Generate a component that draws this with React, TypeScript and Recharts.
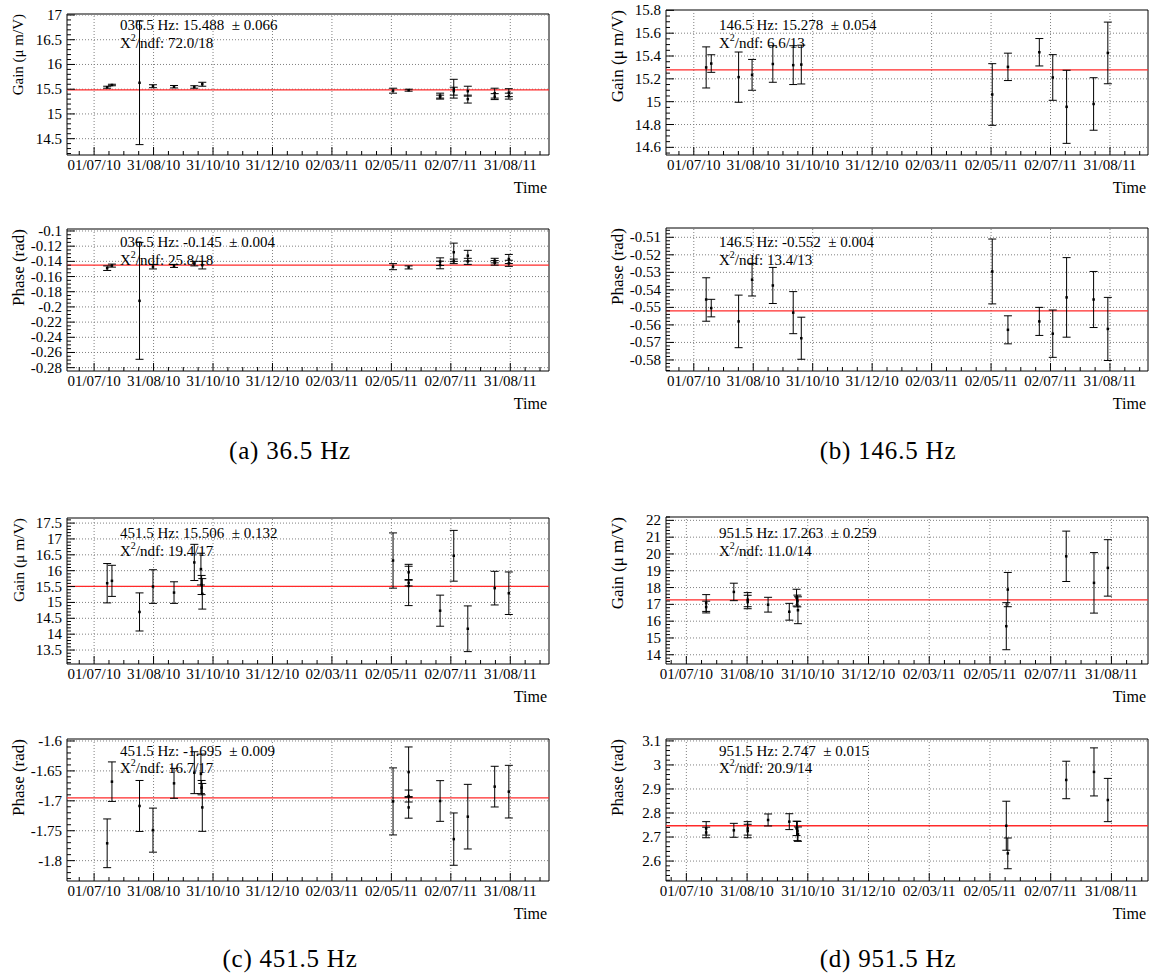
import React from 'react';
import { ScatterChart, Scatter, XAxis, YAxis, ErrorBar, ReferenceLine, ReferenceArea } from 'recharts';

const SERIF = '"Liberation Serif", "Times New Roman", Times, serif';

// Time axis: days counted from 01/07/10
const DATE_TICKS = [0, 61, 122, 183, 244, 305, 366, 427];
const DATE_LABELS = ['01/07/10', '31/08/10', '31/10/10', '31/12/10', '02/03/11', '02/05/11', '02/07/11', '31/08/11'];
const DATE_MINOR_STEP = 15.25;

// 36.5 Hz
const DAYS_036 = [13.4, 18.3, 46.6, 60.4, 82, 102.8, 111, 306.7, 322.7, 355, 355, 369, 369, 383.4, 383.4, 411, 411, 425.5, 425.5];
const GAIN_036 = [15.54, 15.585, 15.63, 15.56, 15.55, 15.545, 15.6, 15.47, 15.48, 15.37, 15.34, 15.51, 15.46, 15.46, 15.3, 15.42, 15.35, 15.43, 15.36];
const GAIN_ERR_036 = [0.02, 0.015, 1.25, 0.03, 0.025, 0.025, 0.04, 0.05, 0.02, 0.05, 0.04, 0.19, 0.08, 0.1, 0.08, 0.1, 0.06, 0.08, 0.06];
const PHASE_036 = [-0.149, -0.1456, -0.192, -0.147, -0.146, -0.143, -0.145, -0.147, -0.148, -0.1404, -0.1448, -0.128, -0.14, -0.1325, -0.14, -0.139, -0.142, -0.1369, -0.1426];
const PHASE_ERR_036 = [0.003, 0.002, 0.077, 0.003, 0.002, 0.003, 0.005, 0.004, 0.002, 0.005, 0.005, 0.012, 0.003, 0.007, 0.004, 0.003, 0.003, 0.006, 0.004];
const GAIN_TICKS_036 = [14.5, 15, 15.5, 16, 16.5, 17];
const PHASE_TICKS_036 = [-0.28, -0.26, -0.24, -0.22, -0.2, -0.18, -0.16, -0.14, -0.12, -0.1];

// 146.5 Hz
const DAYS_146 = [12.7, 17.9, 46.0, 59.8, 81.1, 102.0, 110.3, 306.2, 322.3, 354.5, 368.3, 382.5, 410.2, 424.8];
const GAIN_146 = [15.3, 15.334, 15.215, 15.235, 15.33, 15.32, 15.325, 15.063, 15.305, 15.433, 15.212, 14.955, 14.98, 15.427];
const GAIN_ERR_146 = [0.18, 0.077, 0.22, 0.135, 0.16, 0.17, 0.17, 0.27, 0.12, 0.12, 0.2, 0.32, 0.23, 0.27];
const PHASE_146 = [-0.5455, -0.5504, -0.558, -0.5342, -0.5375, -0.553, -0.5676, -0.5295, -0.5628, -0.558, -0.565, -0.5443, -0.5455, -0.5623];
const PHASE_ERR_146 = [0.0124, 0.005, 0.015, 0.0093, 0.0103, 0.012, 0.012, 0.0185, 0.008, 0.008, 0.0135, 0.0227, 0.016, 0.018];
const GAIN_TICKS_146 = [14.6, 14.8, 15, 15.2, 15.4, 15.6, 15.8];
const PHASE_TICKS_146 = [-0.58, -0.57, -0.56, -0.55, -0.54, -0.53, -0.52, -0.51];

// 451.5 Hz
const DAYS_451 = [13.4, 18.3, 46.6, 60.4, 82, 102.8, 109.6, 110.3, 111, 306.7, 322.7, 322.7, 322.7, 355, 369, 383.4, 411, 425.5];
const GAIN_451 = [15.605, 15.68, 14.7, 15.5, 15.31, 16.26, 16.05, 15.55, 15.27, 16.32, 15.95, 15.62, 15.52, 14.74, 16.47, 14.17, 15.45, 15.29];
const GAIN_ERR_451 = [0.62, 0.49, 0.6, 0.53, 0.34, 0.57, 0.5, 0.3, 0.48, 0.87, 0.25, 0.1, 0.62, 0.49, 0.8, 0.72, 0.53, 0.67];
const PHASE_451 = [-1.771, -1.668, -1.7086, -1.749, -1.6708, -1.653, -1.655, -1.678, -1.711, -1.701, -1.652, -1.692, -1.711, -1.7003, -1.764, -1.7265, -1.6763, -1.6847];
const PHASE_ERR_451 = [0.0407, 0.033, 0.0426, 0.0368, 0.025, 0.035, 0.033, 0.012, 0.04, 0.056, 0.042, 0.01, 0.018, 0.034, 0.0437, 0.054, 0.034, 0.044];
const GAIN_TICKS_451 = [13.5, 14, 14.5, 15, 15.5, 16, 16.5, 17, 17.5];
const PHASE_TICKS_451 = [-1.8, -1.75, -1.7, -1.65, -1.6];

// 951.5 Hz
const DAYS_951 = [19.9, 19.9, 47.7, 61.6, 61.6, 82.1, 103.4, 110.7, 111.5, 112.1, 321.4, 322.9, 381.6, 409.5, 423.4];
const GAIN_951 = [17.08, 16.84, 17.74, 17.28, 17.14, 16.98, 16.56, 17.4, 17.2, 16.65, 15.7, 17.88, 19.86, 18.28, 19.17];
const GAIN_ERR_951 = [0.5, 0.35, 0.52, 0.42, 0.4, 0.44, 0.5, 0.5, 0.35, 0.8, 1.4, 1.02, 1.5, 1.8, 1.68];
const PHASE_951 = [2.736, 2.719, 2.728, 2.736, 2.725, 2.771, 2.764, 2.736, 2.725, 2.712, 2.747, 2.632, 2.9375, 2.971, 2.854];
const PHASE_ERR_951 = [0.028, 0.022, 0.029, 0.028, 0.028, 0.025, 0.033, 0.03, 0.04, 0.03, 0.102, 0.064, 0.078, 0.1, 0.09];
const GAIN_TICKS_951 = [14, 15, 16, 17, 18, 19, 20, 21, 22];
const PHASE_TICKS_951 = [2.6, 2.7, 2.8, 2.9, 3, 3.1];

// Constant fits: value, error, chi2/ndf
const FIT_GAIN = [15.488, 15.278, 15.506, 17.263];
const FIT_GAIN_ERR = [0.066, 0.054, 0.132, 0.259];
const CHI2_GAIN = ['72.0/18', '6.6/13', '19.4/17', '11.0/14'];
const FIT_PHASE = [-0.145, -0.552, -1.695, 2.747];
const FIT_PHASE_ERR = [0.004, 0.004, 0.009, 0.015];
const CHI2_PHASE = ['25.8/18', '13.4/13', '16.7/17', '20.9/14'];
const FREQ_TAGS = ['036.5', '146.5', '451.5', '951.5'];
const CAPTIONS = ['(a) 36.5 Hz', '(b) 146.5 Hz', '(c) 451.5 Hz', '(d) 951.5 Hz'];

type Box = { left: number; top: number; width: number; height: number };
type Frame = { x0: number; x1: number; y0: number; y1: number };
type Spec = {
  key: string;
  box: Box;
  frame: Frame;
  days: number[];
  values: number[];
  errors: number[];
  yDomain: [number, number];
  yTicks: number[];
  yMinor: number;
  fit: number;
  fitErr: number;
  chi2: string;
  tag: string;
  title: string;
  titleSize: number;
  statY: number;
};

const near = (a: number, b: number, tol = 1e-6) => Math.abs(a - b) < tol;

function xDomainOf(days: number[]): [number, number] {
  const lo = Math.min(...days);
  const hi = Math.max(...days);
  const pad = 0.1 * (hi - lo);
  return [lo - pad, hi + pad];
}

function minorTicks(domain: [number, number], step: number, majors: number[]) {
  const out: number[] = [];
  const k0 = Math.ceil(domain[0] / step - 1e-9);
  const k1 = Math.floor(domain[1] / step + 1e-9);
  for (let k = k0; k <= k1; k++) {
    const v = k * step;
    if (!majors.some((m) => near(m, v, step * 1e-3))) out.push(v);
  }
  return out;
}

const fmtTick = (v: number) => String(parseFloat(v.toFixed(4)));

// Axis bands are 1px wide so the axes render; ticks are drawn inward from the frame edge.
const AXIS_BAND = 1;
const TICK_FONT = 15;

const renderXTick = (props: any) => {
  const { x, y, payload } = props;
  const i = DATE_TICKS.findIndex((t) => near(t, payload.value));
  return (
    <g>
      <line x1={x} x2={x} y1={y} y2={y - (i >= 0 ? 8 : 4)} stroke="#000" strokeWidth={1} />
      {i >= 0 && (
        <text x={x} y={y + 15} textAnchor="middle" fontSize={TICK_FONT} fontFamily={SERIF} fill="#000">
          {DATE_LABELS[i]}
        </text>
      )}
    </g>
  );
};

const makeYTick = (majors: number[]) => (props: any) => {
  const { x, y, payload } = props;
  const major = majors.some((m) => near(m, payload.value));
  return (
    <g>
      <line x1={x} x2={x + (major ? 8 : 4)} y1={y} y2={y} stroke="#000" strokeWidth={1} />
      {major && (
        <text x={x - 5} y={y} textAnchor="end" dominantBaseline="central" fontSize={TICK_FONT} fontFamily={SERIF} fill="#000">
          {fmtTick(payload.value)}
        </text>
      )}
    </g>
  );
};

const renderMarker = (props: any) => (
  <rect x={props.cx - 1.25} y={props.cy - 1.25} width={2.5} height={2.5} fill="#000" />
);

function Panel({ spec }: { spec: Spec }) {
  const { box, frame, days, values, errors, yDomain, yTicks, yMinor, fit } = spec;
  const xDomain = xDomainOf(days);
  const xTicks = [
    ...DATE_TICKS.filter((t) => t >= xDomain[0] && t <= xDomain[1]),
    ...minorTicks(xDomain, DATE_MINOR_STEP, DATE_TICKS),
  ].sort((a, b) => a - b);
  const yAll = [...yTicks, ...minorTicks(yDomain, yMinor, yTicks)].sort((a, b) => a - b);
  const data = days.map((d, i) => ({ x: d, y: values[i], e: errors[i] }));
  const margin = {
    left: frame.x0 - box.left - AXIS_BAND,
    right: box.left + box.width - frame.x1,
    top: frame.y0 - box.top,
    bottom: box.top + box.height - frame.y1 - AXIS_BAND,
  };
  return (
    <div style={{ position: 'absolute', left: box.left, top: box.top }}>
      <ScatterChart width={box.width} height={box.height} margin={margin}>
        <XAxis
          type="number"
          dataKey="x"
          domain={xDomain}
          ticks={xTicks}
          interval={0}
          allowDataOverflow
          height={AXIS_BAND}
          tickSize={0}
          tickMargin={0}
          tickLine={false}
          axisLine={false}
          tick={renderXTick}
        />
        <YAxis
          type="number"
          dataKey="y"
          domain={yDomain}
          ticks={yAll}
          interval={0}
          allowDataOverflow
          width={AXIS_BAND}
          tickSize={0}
          tickMargin={0}
          tickLine={false}
          axisLine={false}
          tick={makeYTick(yTicks)}
        />
        {DATE_TICKS.map((t) => (
          <ReferenceLine key={'gx' + t} x={t} stroke="#808080" strokeDasharray="1 2" strokeWidth={1} />
        ))}
        {yTicks.map((t) => (
          <ReferenceLine key={'gy' + t} y={t} stroke="#808080" strokeDasharray="1 2" strokeWidth={1} />
        ))}
        <ReferenceLine y={fit} stroke="#ff2a2a" strokeWidth={1.3} />
        <Scatter data={data} dataKey="y" isAnimationActive={false} shape={renderMarker}>
          <ErrorBar dataKey="e" direction="y" width={4} stroke="#000" strokeWidth={1} isAnimationActive={false} />
        </Scatter>
        <ReferenceArea
          x1={xDomain[0]}
          x2={xDomain[1]}
          y1={yDomain[0]}
          y2={yDomain[1]}
          fill="none"
          fillOpacity={0}
          stroke="#000"
          strokeWidth={1}
          ifOverflow="visible"
        />
      </ScatterChart>
    </div>
  );
}

const LEFT_BOX = { left: 0, width: 575 };
const RIGHT_BOX = { left: 575, width: 575 };
const LEFT_X = { x0: 67, x1: 549 };
const RIGHT_X = { x0: 666, x1: 1148 };

const GAIN_TITLE = 'Gain (\u03bc m/V)';
const PHASE_TITLE = 'Phase (rad)';

const SPECS: Spec[] = [
  {
    key: 'a-gain', box: { ...LEFT_BOX, top: 0, height: 215 }, frame: { ...LEFT_X, y0: 14, y1: 155 },
    days: DAYS_036, values: GAIN_036, errors: GAIN_ERR_036, yDomain: [14.17, 17.02], yTicks: GAIN_TICKS_036, yMinor: 0.1,
    fit: FIT_GAIN[0], fitErr: FIT_GAIN_ERR[0], chi2: CHI2_GAIN[0], tag: FREQ_TAGS[0], title: GAIN_TITLE, titleSize: 15, statY: 25.3,
  },
  {
    key: 'a-phase', box: { ...LEFT_BOX, top: 215, height: 215 }, frame: { ...LEFT_X, y0: 229, y1: 371 },
    days: DAYS_036, values: PHASE_036, errors: PHASE_ERR_036, yDomain: [-0.2844, -0.0974], yTicks: PHASE_TICKS_036, yMinor: 0.005,
    fit: FIT_PHASE[0], fitErr: FIT_PHASE_ERR[0], chi2: CHI2_PHASE[0], tag: FREQ_TAGS[0], title: PHASE_TITLE, titleSize: 17, statY: 242,
  },
  {
    key: 'b-gain', box: { ...RIGHT_BOX, top: 0, height: 215 }, frame: { ...RIGHT_X, y0: 10, y1: 155 },
    days: DAYS_146, values: GAIN_146, errors: GAIN_ERR_146, yDomain: [14.533, 15.803], yTicks: GAIN_TICKS_146, yMinor: 0.05,
    fit: FIT_GAIN[1], fitErr: FIT_GAIN_ERR[1], chi2: CHI2_GAIN[1], tag: FREQ_TAGS[1], title: GAIN_TITLE, titleSize: 17, statY: 25.3,
  },
  {
    key: 'b-phase', box: { ...RIGHT_BOX, top: 215, height: 215 }, frame: { ...RIGHT_X, y0: 228, y1: 371 },
    days: DAYS_146, values: PHASE_146, errors: PHASE_ERR_146, yDomain: [-0.5863, -0.5047], yTicks: PHASE_TICKS_146, yMinor: 0.002,
    fit: FIT_PHASE[1], fitErr: FIT_PHASE_ERR[1], chi2: CHI2_PHASE[1], tag: FREQ_TAGS[1], title: PHASE_TITLE, titleSize: 17, statY: 242,
  },
  {
    key: 'c-gain', box: { ...LEFT_BOX, top: 495, height: 215 }, frame: { ...LEFT_X, y0: 518, y1: 664 },
    days: DAYS_451, values: GAIN_451, errors: GAIN_ERR_451, yDomain: [13.06, 17.66], yTicks: GAIN_TICKS_451, yMinor: 0.1,
    fit: FIT_GAIN[2], fitErr: FIT_GAIN_ERR[2], chi2: CHI2_GAIN[2], tag: FREQ_TAGS[2], title: GAIN_TITLE, titleSize: 15.5, statY: 533.3,
  },
  {
    key: 'c-phase', box: { ...LEFT_BOX, top: 715, height: 215 }, frame: { ...LEFT_X, y0: 739, y1: 881 },
    days: DAYS_451, values: PHASE_451, errors: PHASE_ERR_451, yDomain: [-1.834, -1.5967], yTicks: PHASE_TICKS_451, yMinor: 0.01,
    fit: FIT_PHASE[2], fitErr: FIT_PHASE_ERR[2], chi2: CHI2_PHASE[2], tag: FREQ_TAGS[2], title: PHASE_TITLE, titleSize: 17, statY: 750.5,
  },
  {
    key: 'd-gain', box: { ...RIGHT_BOX, top: 495, height: 215 }, frame: { ...RIGHT_X, y0: 517, y1: 664 },
    days: DAYS_951, values: GAIN_951, errors: GAIN_ERR_951, yDomain: [13.45, 22.2], yTicks: GAIN_TICKS_951, yMinor: 0.2,
    fit: FIT_GAIN[3], fitErr: FIT_GAIN_ERR[3], chi2: CHI2_GAIN[3], tag: FREQ_TAGS[3], title: GAIN_TITLE, titleSize: 17, statY: 533.3,
  },
  {
    key: 'd-phase', box: { ...RIGHT_BOX, top: 715, height: 215 }, frame: { ...RIGHT_X, y0: 739, y1: 881 },
    days: DAYS_951, values: PHASE_951, errors: PHASE_ERR_951, yDomain: [2.517, 3.108], yTicks: PHASE_TICKS_951, yMinor: 0.02,
    fit: FIT_PHASE[3], fitErr: FIT_PHASE_ERR[3], chi2: CHI2_PHASE[3], tag: FREQ_TAGS[3], title: PHASE_TITLE, titleSize: 17, statY: 750.5,
  },
];

const CAPTION_POS = [
  { x: 290, y: 450 },
  { x: 888, y: 450 },
  { x: 290, y: 958 },
  { x: 888, y: 958 },
];

function Annotations() {
  return (
    <svg
      width={1150}
      height={973}
      style={{ position: 'absolute', left: 0, top: 0, pointerEvents: 'none' }}
      fontFamily={SERIF}
      fill="#000"
    >
      {SPECS.map((s) => {
        const tx = s.frame.x0 + 53;
        const titleX = s.frame.x0 - 49;
        return (
          <g key={s.key}>
            <text x={tx} y={s.statY} fontSize={15} dominantBaseline="central" style={{ whiteSpace: 'pre' }}>
              {`${s.tag} Hz: ${s.fit.toFixed(3)}  \u00b1 ${s.fitErr.toFixed(3)}`}
            </text>
            <text x={tx} y={s.statY + 17.5} fontSize={15} dominantBaseline="central">
              X<tspan dy={-6} fontSize={10}>2</tspan>
              <tspan dy={6}>/ndf: {s.chi2}</tspan>
            </text>
            <text
              x={titleX}
              y={s.frame.y0}
              transform={`rotate(-90 ${titleX} ${s.frame.y0})`}
              textAnchor="end"
              dominantBaseline="central"
              fontSize={s.titleSize}
            >
              {s.title}
            </text>
            <text x={s.frame.x1 - 2} y={s.frame.y1 + 32} textAnchor="end" dominantBaseline="central" fontSize={16}>
              Time
            </text>
          </g>
        );
      })}
      {CAPTIONS.map((c, i) => (
        <text
          key={c}
          x={CAPTION_POS[i].x}
          y={CAPTION_POS[i].y}
          textAnchor="middle"
          dominantBaseline="central"
          fontSize={25}
          letterSpacing={0.8}
          style={{ whiteSpace: 'pre' }}
        >
          {c}
        </text>
      ))}
    </svg>
  );
}

export default function App() {
  return (
    <div style={{ position: 'relative', width: 1150, height: 973, background: '#fff', overflow: 'hidden' }}>
      <style>{'body{margin:0;}'}</style>
      {SPECS.map((s) => (
        <Panel key={s.key} spec={s} />
      ))}
      <Annotations />
    </div>
  );
}
